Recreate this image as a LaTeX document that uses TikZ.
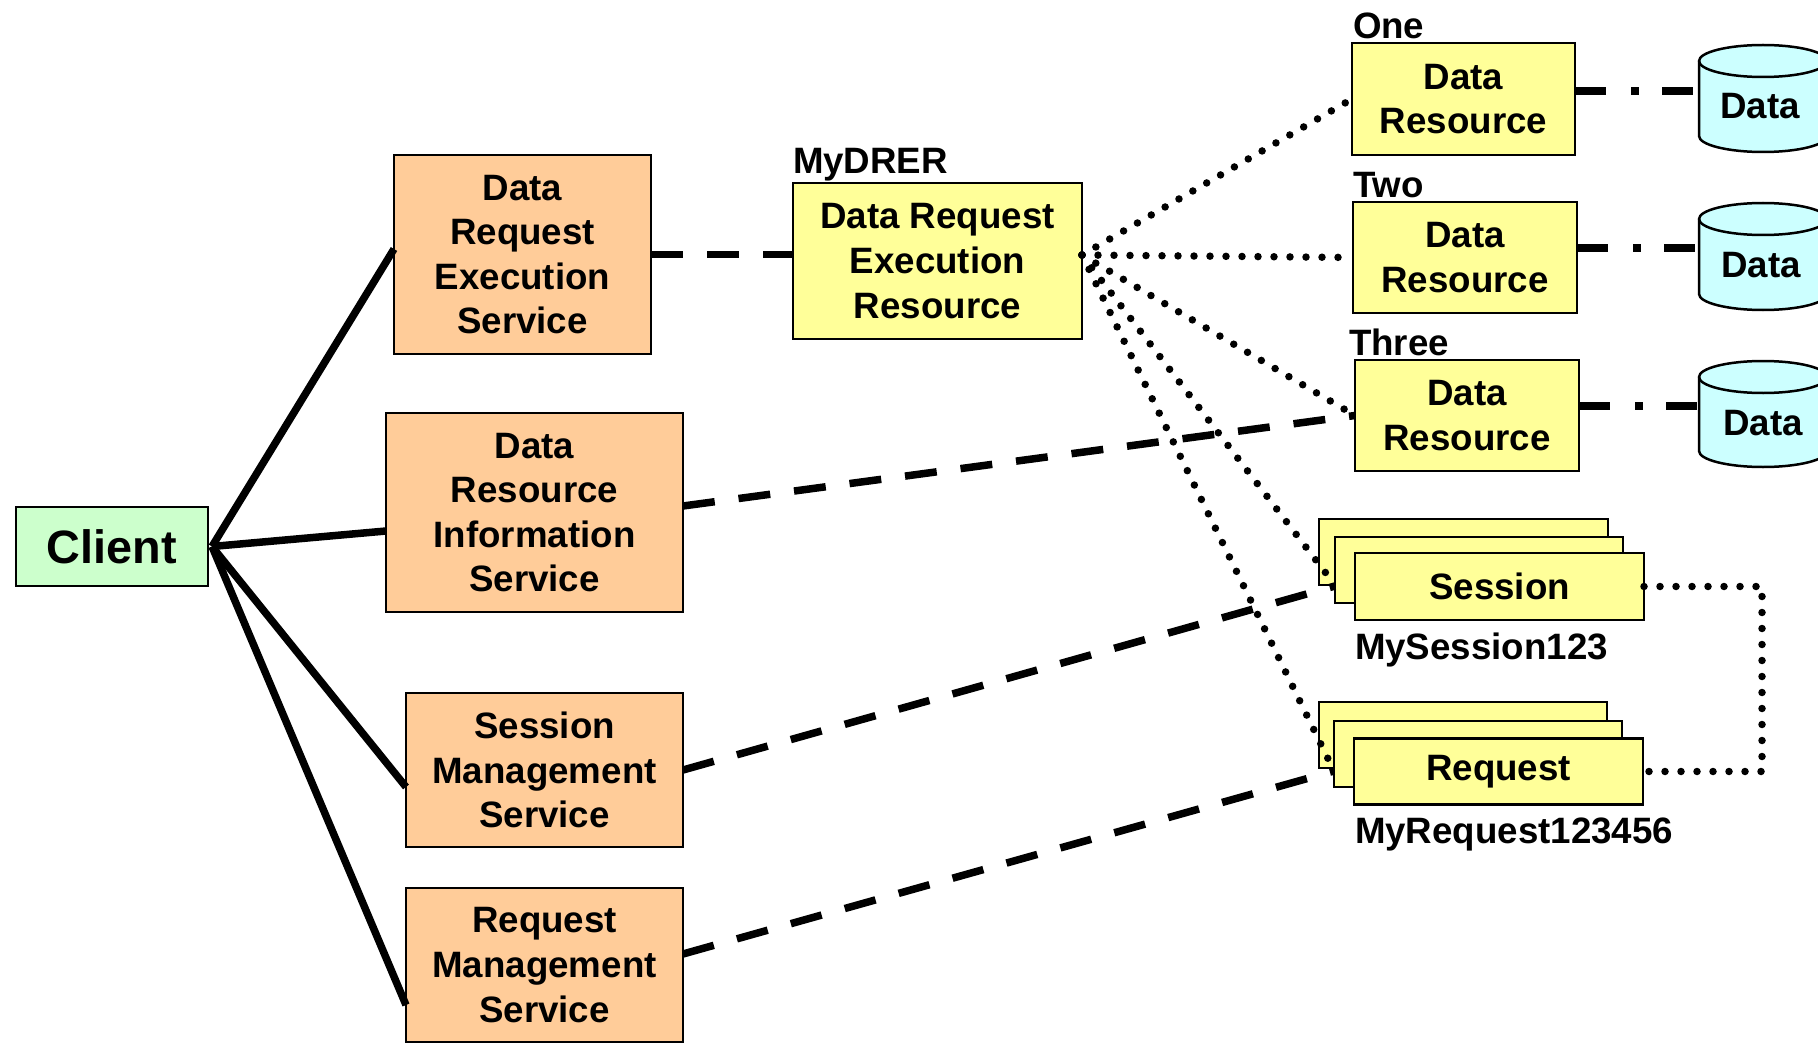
\documentclass[tikz,border=0pt]{standalone}
\usepackage{fontspec}
\setmainfont{Liberation Sans}
\definecolor{svcfill}{RGB}{255,204,153}
\definecolor{resfill}{RGB}{255,255,153}
\definecolor{clientfill}{RGB}{204,255,204}
\definecolor{cylfill}{RGB}{204,255,255}
\begin{document}
\begin{tikzpicture}[x=1pt,y=-1pt,
  base/.style={font=\bfseries\fontsize{36.7}{44.6}\selectfont, align=center, inner sep=0pt, outer sep=0pt},
  box/.style={base, draw=black, line width=2.5pt, rectangle},
  svc/.style={box, fill=svcfill},
  res/.style={box, fill=resfill},
  lbl/.style={base, anchor=base west},
  conn/.style={line width=7.5pt},
  dsh/.style={line width=7.5pt, dash pattern=on 32pt off 24pt},
  dotl/.style={line width=7.5pt, dash pattern=on 0pt off 16pt, line cap=round},
  dshdot/.style={line width=8pt, dash pattern=on 31pt off 25pt on 8pt off 23pt},
  cyl/.style={draw=black, line width=2.5pt, fill=cylfill}
]
\useasboundingbox (0,0) rectangle (1818,1043);

% client
\node[box, fill=clientfill, minimum width=192pt, minimum height=79pt,
      font=\bfseries\fontsize{46.8}{54}\selectfont] (client) at (112,546.5) {Client};

% services
\node[svc, minimum width=257pt, minimum height=199pt] (dres) at (522.5,254.5) {Data\\Request\\Execution\\Service};
\node[svc, minimum width=297pt, minimum height=199pt] (dris) at (534.5,512.5) {Data\\Resource\\Information\\Service};
\node[svc, minimum width=277pt, minimum height=154pt] (sms) at (544.5,770) {Session\\Management\\Service};
\node[svc, minimum width=277pt, minimum height=154pt] (rms) at (544.5,965) {Request\\Management\\Service};

% resources
\node[res, minimum width=289pt, minimum height=156pt] (drer) at (937.5,261) {Data Request\\Execution\\Resource};
\node[res, minimum width=223pt, minimum height=112pt] (dr1) at (1463.5,99) {Data\\Resource};
\node[res, minimum width=224pt, minimum height=111pt] (dr2) at (1465,257.5) {Data\\Resource};
\node[res, minimum width=224pt, minimum height=111pt] (dr3) at (1467,415.5) {Data\\Resource};

% session stack
\node[res, minimum width=289pt, minimum height=66pt] (sess1) at (1463.5,552) {};
\node[res, minimum width=288pt, minimum height=66pt] (sess2) at (1479,570) {};
\node[res, minimum width=289pt, minimum height=67pt] (sess) at (1499.5,586.5) {Session};
% request stack
\node[res, minimum width=288pt, minimum height=66pt] (req1) at (1463,735) {};
\node[res, minimum width=288pt, minimum height=66pt] (req2) at (1478,754) {};
\node[res, minimum width=289pt, minimum height=66pt] (req) at (1498.5,771.5) {Request};

% databases
\begin{scope}
\clip (0,0) rectangle (1818,1043);
\foreach \t/\b in {61/136, 219/294, 377/451}{
  \path[cyl] (1699,\t) -- (1699,\b) arc[start angle=180, end angle=360, x radius=64pt, y radius=16pt]
     -- (1827,\t) arc[start angle=0, end angle=180, x radius=64pt, y radius=16pt] -- cycle;
  \draw[black, line width=2.5pt] (1699,\t) arc[start angle=180, end angle=360, x radius=64pt, y radius=16pt];
}
\end{scope}
\node[base] (db1) at (1760,106) {Data};
\node[base] (db2) at (1761,265) {Data};
\node[base] (db3) at (1763,423.5) {Data};
\coordinate (c1) at (1699,91);
\coordinate (c2) at (1699,248);
\coordinate (c3) at (1699,406);

% labels
\node[lbl] (lone) at (1353,39) {One};
\node[lbl] (ltwo) at (1353,198) {Two};
\node[lbl] (lthree) at (1349,355) {Three};
\node[lbl] (ldrer) at (793,174) {MyDRER};
\node[lbl] (lsess) at (1355,659) {MySession123};
\node[lbl] (lreq) at (1355,843) {MyRequest123456};

% solid connectors from client
\coordinate (cl) at ([xshift=4pt]client.east);
\draw[conn] (cl) -- ([yshift=5.5pt]dres.west);
\draw[conn] (cl) -- ([yshift=-18.5pt]dris.west);
\draw[conn] (cl) -- ([yshift=-17pt]sms.west);
\draw[conn] (cl) -- ([yshift=-40pt]rms.west);

% dashed connectors
\draw[dsh] (dres.east) -- (dres.east -| drer.west);
\draw[dsh] ([yshift=6.5pt]dris.east) -- (dr3.west);
\draw[dsh] (sms.east) -- ([yshift=-16pt]sess2.west);
\draw[dsh] ([yshift=11pt]rms.east) -- ([yshift=-17pt]req2.west);

% dotted fan
\coordinate (fan) at ([yshift=6pt]drer.east);
\draw[dotl] (fan) -- (dr1.west);
\draw[dotl] (fan) -- (dr2.west);
\draw[dotl] (fan) -- (dr3.west);
\draw[dotl] (fan) -- ([yshift=-15pt]sess2.west);
\draw[dotl] (fan) -- ([yshift=-17pt]req2.west);

% session-request loop
\coordinate (loopx) at (1762,0);
\draw[dotl] (sess.east) -- (sess.east -| loopx) |- (req.east);

% dash-dot to databases
\draw[dshdot] (c1 -| dr1.east) -- (c1);
\draw[dshdot] (c2 -| dr2.east) -- (c2);
\draw[dshdot] (c3 -| dr3.east) -- (c3);
\end{tikzpicture}
\end{document}
